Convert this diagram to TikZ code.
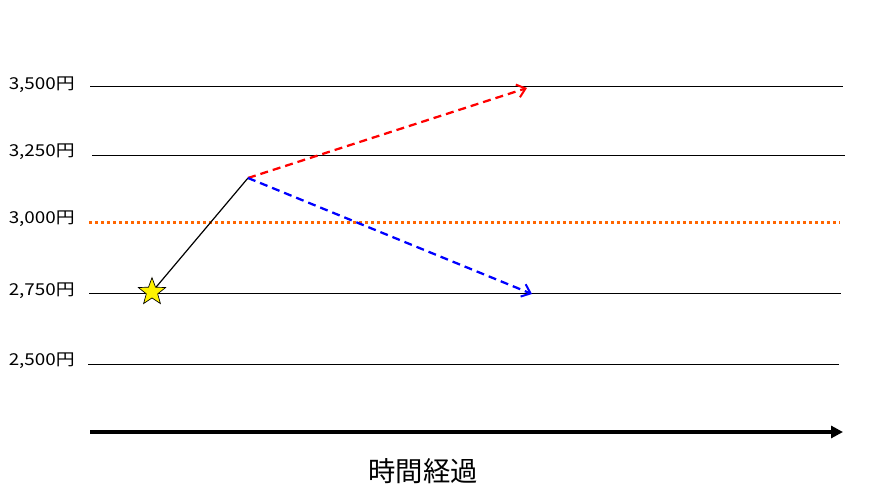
\documentclass[tikz,border=0pt]{standalone}
\usepackage{fontspec}
\setmainfont{Noto Sans CJK JP}
\newfontfamily\pricefont{Noto Sans CJK JP}[FakeStretch=1.15]
\usetikzlibrary{arrows.meta,shapes.geometric}

\begin{document}
\begin{tikzpicture}[x=0.75pt, y=-0.75pt, >=Stealth,
    price/.style={anchor=east, inner sep=0pt, font=\pricefont\fontsize{12.3}{14}\selectfont},
    level/.style={line width=0.75pt},
    trend/.style={line width=1.7pt, dash pattern=on 6pt off 3.75pt,
                  -{Straight Barb[length=6pt, width=10pt, line width=1.5pt]}}]

  \useasboundingbox (0, 0) rectangle (873, 498);

  % price levels
  \node[price] (P3500) at (75, 85)  {3,500円};
  \node[price] (P3250) at (75, 152) {3,250円};
  \node[price] (P3000) at (75, 219) {3,000円};
  \node[price] (P2750) at (75, 291) {2,750円};
  \node[price] (P2500) at (75, 361) {2,500円};

  \draw[level] (90, 87)  -- (843, 87);
  \draw[level] (92, 156) -- (845, 156);
  \draw[level] (89, 294) -- (841, 294);
  \draw[level] (88, 364) -- (839, 364);
  \draw[line width=2.25pt, color={rgb,255:red,255;green,102;blue,0},
        dash pattern=on 2.25pt off 2.25pt] (89, 223) -- (840, 223);

  % time axis
  \node[font=\fontsize{20.5}{22}\selectfont] (T) at (423, 471) {時間経過};
  \draw[line width=3pt, -{Triangle[length=9pt, width=9pt]}] (90, 432) -- (843, 432);

  % movement
  \node[star, star points=5, star point ratio=2.4, minimum size=21.5pt,
        inner sep=0pt, draw, fill=yellow, line width=0.5pt] (S) at (152, 292) {};
  \coordinate (Peak) at (248, 178);
  \coordinate (Up)   at (527, 88);
  \coordinate (Down) at (532, 294);

  \draw[line width=0.9pt] (S) -- (Peak);
  \draw[trend, red]  (Peak) -- (Up);
  \draw[trend, blue] (Peak) -- (Down);

\end{tikzpicture}
\end{document}
